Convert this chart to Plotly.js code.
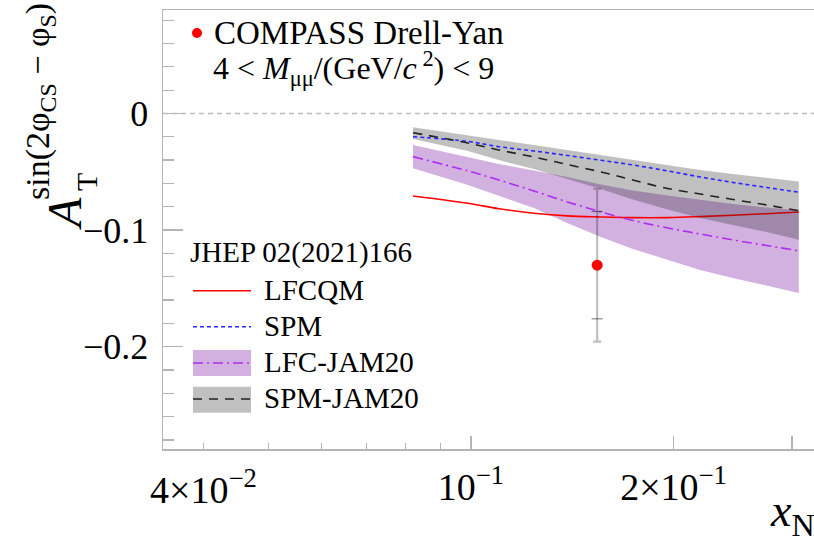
<!DOCTYPE html>
<html>
<head>
<meta charset="utf-8">
<script src="https://cdn.plot.ly/plotly-3.0.1.min.js"></script>
<style>
  html, body { margin: 0; padding: 0; background: #fff; overflow: hidden; }
  #chart { width: 814px; height: 540px; }
</style>
</head>
<body>
<div id="chart"></div>
<script>
// x_N grid shared by all model curves
const xN = [0.082, 0.099, 0.110, 0.124, 0.139, 0.156, 0.174, 0.196, 0.219, 0.245, 0.275, 0.307];

// LFCQM prediction
const lfcqm = [-0.0707, -0.0770, -0.0816, -0.0855, -0.0878, -0.0887, -0.0893, -0.0893, -0.0884, -0.0872, -0.0859, -0.0844];
// SPM prediction
const spm = [-0.0199, -0.0240, -0.0285, -0.0321, -0.0360, -0.0401, -0.0441, -0.0493, -0.0544, -0.0591, -0.0634, -0.0675];
// SPM-JAM20: central value and uncertainty band
const spmJamMid = [-0.0165, -0.0253, -0.0313, -0.0373, -0.0437, -0.0501, -0.0570, -0.0643, -0.0690, -0.0737, -0.0784, -0.0833];
const spmJamHi  = [-0.0118, -0.0184, -0.0227, -0.0270, -0.0313, -0.0356, -0.0403, -0.0446, -0.0484, -0.0518, -0.0553, -0.0584];
const spmJamLo  = [-0.0219, -0.0321, -0.0399, -0.0476, -0.0561, -0.0647, -0.0737, -0.0823, -0.0896, -0.0956, -0.1016, -0.1082];
// LFC-JAM20: central value and uncertainty band
const lfcJamMid = [-0.0370, -0.0493, -0.0570, -0.0664, -0.0758, -0.0844, -0.0917, -0.0981, -0.1033, -0.1084, -0.1131, -0.1178];
const lfcJamHi  = [-0.0270, -0.0373, -0.0433, -0.0488, -0.0544, -0.0608, -0.0660, -0.0703, -0.0741, -0.0776, -0.0806, -0.0831];
const lfcJamLo  = [-0.0470, -0.0613, -0.0707, -0.0810, -0.0938, -0.1058, -0.1161, -0.1256, -0.1341, -0.1410, -0.1478, -0.1539];

// COMPASS Drell-Yan measurement
const dataX = [0.154];
const dataY = [-0.130];
const statErr = [0.046];
const totErr = [0.0655];

// axis ticks
const xMajorTicks = [0.1, 0.2, 0.3];
const xMajorLabels = ['10<sup>−1</sup>', '2×10<sup>−1</sup>', ''];
const xMinorTicks = [0.04, 0.05, 0.06, 0.07, 0.08, 0.09];
const yTicks = [0, -0.1, -0.2];
const yLabels = ['0', '−0.1', '−0.2'];

// colours
const C = {
  frame: '#b4b4b4',
  red: '#ff0000',
  blue: '#2828ff',
  violet: '#b02cf0',
  black: '#222222',
  purpleFill: 'rgb(210,177,224)',
  greyFill: 'rgba(37,37,37,0.29)',
  errBar: 'rgba(0,0,0,0.25)'
};
const FONT = 'Liberation Serif, Times New Roman, serif';

// frame geometry in pixels
const W = 814, H = 540;
const M = { l: 163, r: 0, t: 10, b: 91 };
const PW = W - M.l - M.r, PH = H - M.t - M.b;
const px = v => (v - M.l) / PW;          // pixel -> paper x
const py = v => (H - M.b - v) / PH;      // pixel -> paper y

function band(lo, hi) {
  return {
    x: xN.concat(xN.slice().reverse()),
    y: hi.concat(lo.slice().reverse())
  };
}

const purpleBand = band(lfcJamLo, lfcJamHi);
const greyBand = band(spmJamLo, spmJamHi);

const traces = [
  { x: purpleBand.x, y: purpleBand.y, mode: 'lines', fill: 'toself',
    fillcolor: C.purpleFill, line: { width: 0 }, hoverinfo: 'skip', showlegend: false },
  { x: xN, y: lfcqm, mode: 'lines', line: { color: C.red, width: 1.6, shape: 'spline' }, showlegend: false },
  { x: greyBand.x, y: greyBand.y, mode: 'lines', fill: 'toself',
    fillcolor: C.greyFill, line: { width: 0 }, hoverinfo: 'skip', showlegend: false },
  { x: xN, y: spm, mode: 'lines', line: { color: C.blue, width: 1.6, dash: '4px,3px', shape: 'spline' }, showlegend: false },
  { x: xN, y: spmJamMid, mode: 'lines', line: { color: C.black, width: 1.6, dash: '9px,7px', shape: 'spline' }, showlegend: false },
  { x: xN, y: lfcJamMid, mode: 'lines', line: { color: C.violet, width: 1.6, dash: '10px,4px,2px,4px', shape: 'spline' }, showlegend: false },
  // total uncertainty bar
  { x: dataX, y: dataY, mode: 'markers', marker: { size: 1, color: 'rgba(0,0,0,0)' },
    error_y: { type: 'data', array: totErr, symmetric: true, color: C.errBar, thickness: 2.2, width: 4 },
    showlegend: false },
  // statistical uncertainty ticks
  { x: dataX.concat(dataX), y: [dataY[0] + statErr[0], dataY[0] - statErr[0]], mode: 'markers',
    marker: { symbol: 'line-ew', size: 8, line: { color: 'rgba(0,0,0,0.45)', width: 1.2 } }, showlegend: false },
  // data point
  { x: dataX, y: dataY, mode: 'markers', marker: { size: 11, color: C.red }, showlegend: false }
];

const shapes = [
  // dashed zero line
  { type: 'line', xref: 'paper', x0: 0, x1: 1, yref: 'y', y0: 0, y1: 0,
    line: { color: '#bdbdbd', width: 1.6, dash: '5px,4px' } },
  // legend marker of the measurement
  { type: 'circle', xref: 'paper', yref: 'paper', x0: px(192), x1: px(202), y0: py(38), y1: py(28),
    fillcolor: C.red, line: { width: 0 } },
  // legend samples
  { type: 'line', xref: 'paper', yref: 'paper', x0: px(193), x1: px(251), y0: py(290.7), y1: py(290.7),
    line: { color: C.red, width: 1.6 } },
  { type: 'line', xref: 'paper', yref: 'paper', x0: px(193), x1: px(251), y0: py(326.7), y1: py(326.7),
    line: { color: C.blue, width: 1.6, dash: '4px,3px' } },
  { type: 'rect', xref: 'paper', yref: 'paper', x0: px(193), x1: px(251), y0: py(376), y1: py(350),
    fillcolor: C.purpleFill, line: { width: 0 } },
  { type: 'line', xref: 'paper', yref: 'paper', x0: px(193), x1: px(251), y0: py(363), y1: py(363),
    line: { color: C.violet, width: 1.6, dash: '10px,4px,2px,4px' } },
  { type: 'rect', xref: 'paper', yref: 'paper', x0: px(193), x1: px(251), y0: py(412.7), y1: py(386.7),
    fillcolor: 'rgb(192,192,192)', line: { width: 0 } },
  { type: 'line', xref: 'paper', yref: 'paper', x0: px(193), x1: px(251), y0: py(399), y1: py(399),
    line: { color: C.black, width: 1.6, dash: '9px,7px' } }
];

function label(text, x, y, size, opts) {
  return Object.assign({
    text: text, xref: 'paper', yref: 'paper', x: px(x), y: py(y),
    xanchor: 'left', yanchor: 'middle', showarrow: false,
    font: { family: FONT, size: size, color: '#000' }
  }, opts || {});
}

const annotations = [
  label('COMPASS Drell-Yan', 212, 33, 33),
  label('4 &lt; <i>M</i><sub>μμ</sub>/(GeV/<i>c</i><sup> 2</sup>) &lt; 9', 211, 68, 32),
  label('JHEP 02(2021)166', 188, 252, 29),
  label('LFCQM', 262, 290, 29),
  label('SPM', 262, 326, 29),
  label('LFC-JAM20', 262, 362, 29),
  label('SPM-JAM20', 262, 398, 29),
  // x-axis label for 4x10^-2
  { text: '4×10<sup>−2</sup>', xref: 'x', yref: 'paper', x: Math.log10(0.04), y: py(487),
    xanchor: 'center', yanchor: 'middle', showarrow: false,
    font: { family: FONT, size: 38, color: '#000' } },
  // axis titles
  label('<i>x</i><sub>N</sub>', 768, 514, 46),
  label('<i>A</i>', 64, 214, 48, { xanchor: 'center', textangle: -90 }),
  label('T', 86, 182, 30, { xanchor: 'center', textangle: -90 }),
  label('sin(2φ<sub>CS</sub> − φ<sub>S</sub>)', 40, 102, 34, { xanchor: 'center', textangle: -90 })
];

const layout = {
  width: W, height: H,
  margin: M,
  paper_bgcolor: '#fff', plot_bgcolor: '#fff',
  showlegend: false,
  xaxis: {
    type: 'log', range: [Math.log10(0.03486), Math.log10(0.3234)],
    showline: true, mirror: true, linecolor: C.frame, linewidth: 1.5,
    showgrid: false, zeroline: false,
    ticks: 'inside', ticklen: 13, tickwidth: 1.3, tickcolor: C.frame,
    tickmode: 'array', tickvals: xMajorTicks, ticktext: xMajorLabels,
    tickfont: { family: FONT, size: 38, color: '#000' },
    ticklabelstandoff: 4,
    minor: { tickmode: 'array', tickvals: xMinorTicks, ticks: 'inside', ticklen: 6, tickwidth: 1.3, tickcolor: C.frame, showgrid: false }
  },
  yaxis: {
    range: [-0.2876, 0.0887],
    showline: true, mirror: false, linecolor: C.frame, linewidth: 1.5,
    showgrid: false, zeroline: false,
    ticks: 'inside', ticklen: 20, tickwidth: 1.3, tickcolor: C.frame,
    tickmode: 'array', tickvals: yTicks, ticktext: yLabels,
    tickfont: { family: FONT, size: 36, color: '#000' },
    ticklabelstandoff: 6,
    minor: { tick0: 0, dtick: 0.02, ticks: 'inside', ticklen: 11, tickwidth: 1.3, tickcolor: C.frame, showgrid: false }
  },
  shapes: shapes,
  annotations: annotations
};

Plotly.newPlot('chart', traces, layout, { staticPlot: true, displayModeBar: false });
</script>
</body>
</html>
